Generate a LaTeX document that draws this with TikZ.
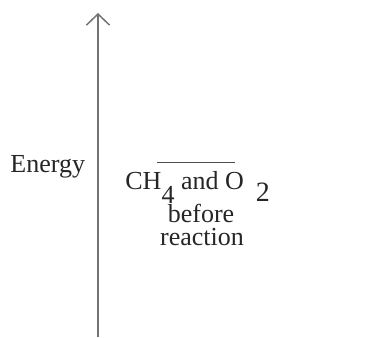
\documentclass[tikz,border=0pt]{standalone}
\usepackage{fontspec}
\setmainfont{Liberation Serif}
\usepackage{tikz}
\usetikzlibrary{arrows.meta}
\usepackage{xcolor}

\begin{document}
\begin{tikzpicture}[x=0.5pt,y=0.5pt,font=\fontsize{13}{11.5}\selectfont,
   axis/.style={draw=black!55,line width=0.75pt,-{Straight Barb[length=5.5pt,width=11.5pt]}},
   level/.style={draw=black!70,line width=0.5pt},
   lbl/.style={inner sep=0pt,text=black!85}]
\useasboundingbox (0,0) rectangle (389,337);
% energy axis
\coordinate (axbot) at (98,0);
\coordinate (axtop) at (98,324);
\draw[axis] (axbot) -- (axtop);
\node[lbl,anchor=base west] (energy) at (10,164) {Energy};
% reactant level, before reaction
\coordinate (lvlL) at (157,174);
\coordinate (lvlR) at (235,174);
\draw[level] (lvlL) -- (lvlR);
\node[lbl,anchor=base west] (reac) at (125,148)
   {CH\raisebox{-7pt}{4} and O\hspace{6pt}\raisebox{-6pt}{\fontsize{14}{14}\selectfont 2}};
\node[lbl,anchor=base] (before) at (201,115) {before};
\node[lbl,anchor=base] (reaction) at (202,92) {reaction};
\end{tikzpicture}
\end{document}
